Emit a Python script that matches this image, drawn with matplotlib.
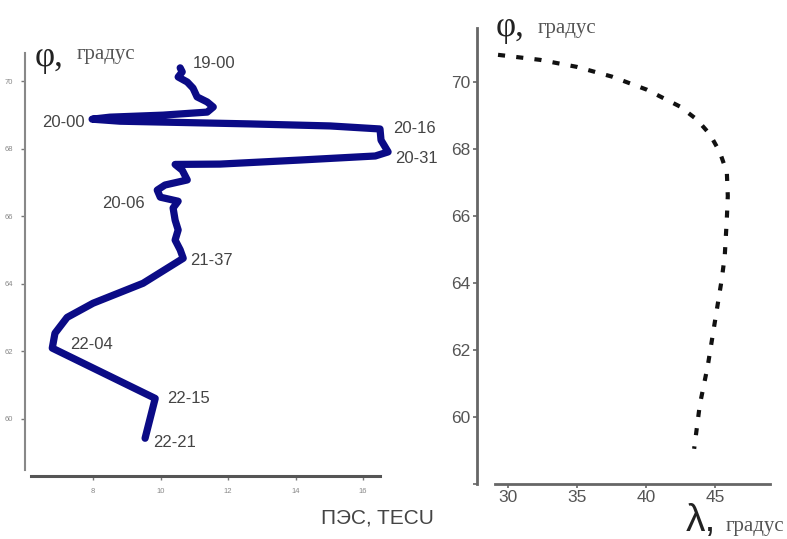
import matplotlib
matplotlib.use('Agg')
import matplotlib.pyplot as plt

# left panel: TEC profile along track (TECU vs latitude)
tec = [10.58, 10.64, 10.52, 10.79, 10.96, 11.08, 11.38, 11.56, 11.38, 10.07,
       8.5, 7.97, 8.8, 12.65, 15.02, 16.5, 16.53, 16.74, 16.36, 14.13,
       11.76, 10.43, 10.64, 10.79, 10.13, 9.9, 9.99, 10.52, 10.37, 10.43,
       10.52, 10.43, 10.58, 10.67, 9.48, 8.0, 7.23, 6.87, 6.79, 9.84, 9.54]
tec_lat = [70.39, 70.27, 70.12, 69.97, 69.79, 69.53, 69.38, 69.23, 69.08, 68.99,
           68.93, 68.87, 68.81, 68.73, 68.67, 68.58, 68.25, 67.9, 67.78, 67.66,
           67.54, 67.53, 67.36, 67.07, 66.92, 66.77, 66.56, 66.44, 66.24, 65.88,
           65.59, 65.29, 65.0, 64.75, 64.01, 63.42, 63.0, 62.53, 62.09, 60.6, 59.42]

time_labels = ['19-00', '20-00', '20-16', '20-31', '20-06', '21-37', '22-04', '22-15', '22-21']
label_tec = [10.96, 7.76, 16.89, 16.95, 9.54, 10.87, 7.32, 10.19, 9.78]
label_lat = [70.53, 68.78, 68.6, 67.72, 66.36, 64.67, 62.21, 60.61, 59.3]
label_ha = ['left', 'right', 'left', 'left', 'right', 'left', 'left', 'left', 'left']

# right panel: track (longitude vs latitude)
lon = [29.28, 32.32, 35.0, 37.54, 40.07, 42.46, 43.7, 44.64, 45.36, 45.87,
       45.94, 45.87, 45.72, 45.5, 45.0, 44.49, 43.91, 43.5]
lat = [70.8, 70.65, 70.44, 70.15, 69.76, 69.26, 68.87, 68.43, 67.9, 67.3,
       66.59, 65.91, 64.81, 64.1, 62.83, 61.53, 60.36, 59.05]

fig = plt.figure(figsize=(7.87, 5.39), dpi=100)
serif = 'Liberation Serif'
sans = 'Liberation Sans'

# ---- left
ax1 = fig.add_axes((31/787, 69/539, 349/787, 417/539))
ax1.plot(tec, tec_lat, color='#0b0b86', lw=5.2, solid_capstyle='round',
         solid_joinstyle='round', clip_on=False)
ax1.set_xlim(6.16, 16.5)
ax1.set_ylim(58.48, 70.83)
ax1.set_xticks([8, 10, 12, 14, 16])
ax1.set_yticks([60, 62, 64, 66, 68, 70])
for s in ['top', 'right']:
    ax1.spines[s].set_visible(False)
ax1.spines['left'].set_position(('outward', 4))
ax1.spines['bottom'].set_position(('outward', 4))
ax1.spines['left'].set_color('#888888')
ax1.spines['left'].set_linewidth(1.5)
ax1.spines['bottom'].set_color('#555555')
ax1.spines['bottom'].set_linewidth(2.2)
ax1.tick_params(axis='both', colors='#777777', labelsize=5.5, length=3, width=1, pad=6)
for lab in ax1.get_xticklabels() + ax1.get_yticklabels():
    lab.set_family(sans)
    lab.set_color('#888888')

for t, x, y, ha in zip(time_labels, label_tec, label_lat, label_ha):
    ax1.text(x, y, t, ha=ha, va='center', fontsize=12, color='#444444',
             family=sans, clip_on=False)

fig.text(35/787, 1 - 58/539, 'φ,', fontsize=25, family=serif, color='#222222', va='center')
fig.text(77/787, 1 - 54/539, 'градус', fontsize=15, family=serif, color='#555555', va='center')
fig.text(321/787, 1 - 518/539, 'ПЭС, TECU', fontsize=15, family=sans, color='#444444', va='center')

# ---- right
ax2 = fig.add_axes((495/787, 55/539, 275/787, 456/539))
ax2.plot(lon, lat, color='#111111', lw=3.0, linestyle=(0, (1.7, 2.7)))
ax2.set_xlim(29.06, 49)
ax2.set_ylim(58, 71.6)
ax2.set_xticks([30, 35, 40, 45])
ax2.set_yticks([58, 60, 62, 64, 66, 68, 70])
ax2.set_yticklabels(['', '60', '62', '64', '66', '68', '70'])
for s in ['top', 'right']:
    ax2.spines[s].set_visible(False)
ax2.spines['left'].set_position(('outward', 13))
for s in ['left', 'bottom']:
    ax2.spines[s].set_color('#666666')
    ax2.spines[s].set_linewidth(2)
ax2.tick_params(axis='both', colors='#666666', labelsize=12.5, length=3, width=1.2, pad=1.5)
for lab in ax2.get_xticklabels() + ax2.get_yticklabels():
    lab.set_family(sans)
    lab.set_color('#555555')

fig.text(496/787, 1 - 28/539, 'φ,', fontsize=25, family=serif, color='#222222', va='center')
fig.text(538/787, 1 - 28/539, 'градус', fontsize=15, family=serif, color='#555555', va='center')
fig.text(686/787, 1 - 521/539, 'λ,', fontsize=28, family=sans, color='#222222', va='center')
fig.text(726/787, 1 - 527/539, 'градус', fontsize=15, family=serif, color='#555555', va='center')

fig.savefig('out.png', dpi=100)
